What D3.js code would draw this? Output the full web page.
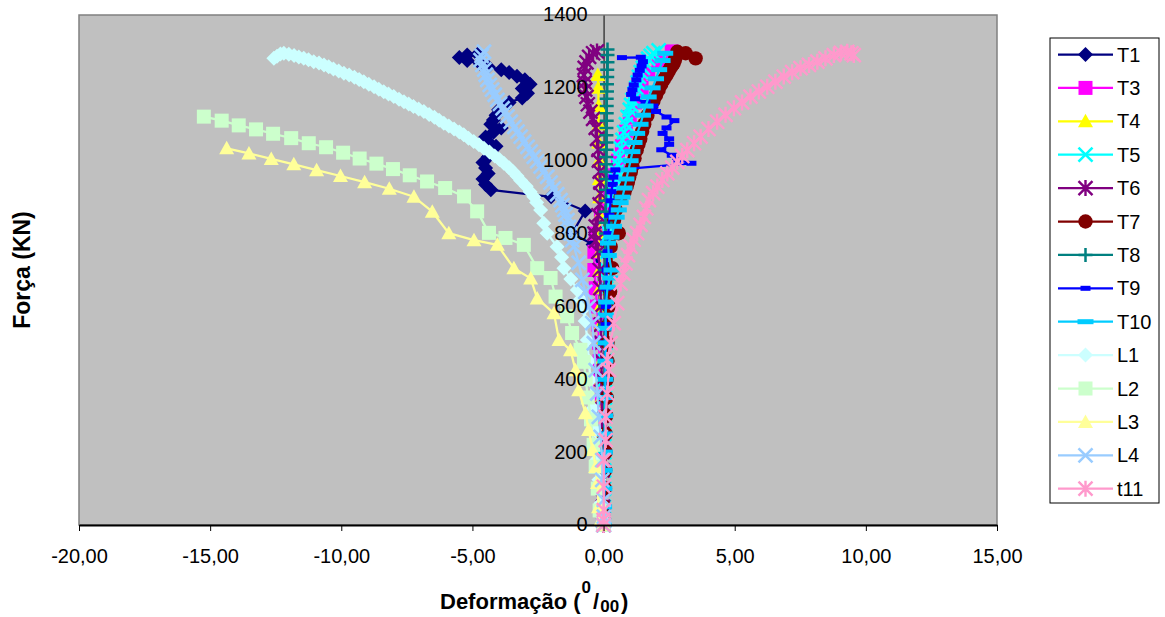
<!DOCTYPE html>
<html><head><meta charset="utf-8">
<script src="https://cdn.jsdelivr.net/npm/d3@7"></script>
<style>body{margin:0;background:#fff;} text{font-family:"Liberation Sans",Arial,sans-serif;fill:#000;}</style>
</head><body><svg id="c" width="1165" height="617"></svg>
<script>
// ---------- data ----------
const xTicks = [-20,-15,-10,-5,0,5,10,15];
const yTicks = [0,200,400,600,800,1000,1200,1400];
const seriesNames = ["T1","T3","T4","T5","T6","T7","T8","T9","T10","L1","L2","L3","L4","t11"];

const T1 = [[0,0],[-0.02,50],[-0.03,100],[-0.04,150],[-0.05,200],[-0.06,250],[-0.07,300],[-0.08,350],[-0.09,400],[-0.1,450],[-0.11,500],[-0.12,550],[-0.14,600],[-0.16,650],[-0.2,700],[-0.25,740],[-0.4,770],[-1.2,800],[-0.7,862],[-2.0,901],[-4.3,920],[-4.5,935],[-4.6,950],[-4.4,965],[-4.5,980],[-4.6,995],[-4.4,1010],[-4.3,1025],[-4.1,1040],[-4.4,1052],[-4.5,1065],[-4.2,1078],[-3.9,1090],[-4.3,1100],[-4.2,1112],[-4.1,1125],[-4.0,1140],[-3.6,1160],[-3.1,1172],[-2.9,1185],[-3.1,1198],[-2.8,1210],[-3.0,1222],[-3.3,1232],[-3.6,1242],[-3.9,1250],[-4.4,1258],[-4.7,1266],[-5.2,1275],[-5.5,1283],[-5.2,1290],[-4.8,1292]];
const T3 = [[0,0],[-0.02,50],[-0.04,100],[-0.05,150],[-0.07,200],[-0.08,250],[-0.1,300],[-0.12,350],[-0.13,400],[-0.15,450],[-0.17,500],[-0.2,550],[-0.25,600],[-0.3,650],[-0.35,700],[-0.35,750],[-0.3,800],[-0.1,850],[0.1,880],[0.25,920],[0.4,960],[0.55,1000],[0.7,1040],[0.85,1080],[1.0,1120],[1.2,1160],[1.45,1200],[1.7,1240],[2.1,1270],[2.6,1300]];
const T4 = [[0,0],[-0.02,50],[-0.03,100],[-0.04,150],[-0.05,200],[-0.06,250],[-0.07,300],[-0.08,350],[-0.09,400],[-0.1,450],[-0.1,500],[-0.12,550],[-0.13,600],[-0.14,650],[-0.15,700],[-0.15,750],[-0.16,800],[-0.15,850],[-0.15,900],[-0.16,950],[-0.17,1000],[-0.18,1050],[-0.18,1100],[-0.19,1150],[-0.2,1200],[-0.22,1235]];
const T5 = [[0,0],[0.01,50],[0.02,100],[0.02,150],[0.03,200],[0.03,250],[0.04,300],[0.05,350],[0.05,400],[0.06,450],[0.07,500],[0.08,550],[0.08,600],[0.1,650],[0.12,700],[0.15,750],[0.2,800],[0.25,825],[0.3,850],[0.33,870],[0.35,890],[0.38,910],[0.42,930],[0.46,950],[0.5,970],[0.55,990],[0.6,1010],[0.66,1033],[0.72,1057],[0.78,1078],[0.85,1100],[0.92,1120],[1.0,1140],[1.05,1153],[1.1,1167],[1.18,1184],[1.25,1200],[1.3,1215],[1.35,1230],[1.42,1243],[1.5,1255],[1.6,1268],[1.7,1280],[1.8,1288],[1.9,1295],[2.1,1303]];
const T6 = [[0,0],[-0.02,50],[-0.03,100],[-0.04,150],[-0.05,200],[-0.05,250],[-0.06,300],[-0.07,350],[-0.08,400],[-0.08,450],[-0.09,500],[-0.1,550],[-0.1,600],[-0.12,650],[-0.15,700],[-0.2,750],[-0.3,780],[-0.35,800],[-0.3,820],[-0.2,850],[-0.15,880],[-0.12,910],[-0.12,940],[-0.15,970],[-0.18,1000],[-0.2,1030],[-0.25,1060],[-0.3,1090],[-0.4,1115],[-0.5,1135],[-0.6,1155],[-0.65,1175],[-0.7,1195],[-0.72,1215],[-0.75,1235],[-0.72,1255],[-0.65,1270],[-0.55,1285],[-0.4,1295],[-0.25,1300]];
const T7 = [[0,0],[0.03,50],[0.05,100],[0.06,150],[0.08,200],[0.08,250],[0.1,300],[0.12,350],[0.12,400],[0.15,450],[0.15,500],[0.18,550],[0.2,600],[0.25,640],[0.33,705],[0.27,764],[0.58,801],[0.4,837],[0.46,865],[0.65,901],[0.8,915],[0.88,929],[0.93,942],[0.98,955],[1.04,970],[1.1,985],[1.18,1007],[1.26,1029],[1.33,1045],[1.4,1060],[1.47,1080],[1.55,1100],[1.67,1124],[1.8,1148],[1.9,1164],[2.0,1180],[2.1,1195],[2.2,1210],[2.3,1223],[2.4,1235],[2.48,1245],[2.55,1255],[2.62,1262],[2.67,1267],[2.72,1277],[2.75,1285],[2.81,1299],[3.13,1295],[3.51,1281]];
const T8 = [[0,0],[0,25],[0.01,50],[0.01,100],[0.02,150],[0.02,200],[0.03,250],[0.03,300],[0.04,350],[0.04,400],[0.05,450],[0.05,500],[0.05,550],[0.06,600],[0.06,650],[0.07,700],[0.07,750],[0.08,800],[0.08,830],[0.08,860],[0.09,890],[0.09,920],[0.1,950],[0.1,970],[0.1,990],[0.1,1010],[0.11,1030],[0.11,1050],[0.11,1070],[0.11,1090],[0.12,1110],[0.12,1130],[0.12,1150],[0.12,1170],[0.13,1190],[0.13,1210],[0.14,1230],[0.14,1250],[0.15,1270],[0.15,1290],[0.15,1305]];
const T9 = [[0,0],[0.02,50],[0.03,100],[0.04,150],[0.05,200],[0.05,250],[0.06,300],[0.06,350],[0.07,400],[0.07,450],[0.08,500],[0.08,550],[0.09,600],[0.1,650],[0.12,700],[0.15,750],[0.18,800],[0.22,850],[0.27,890],[0.3,915],[0.35,935],[0.38,955],[0.45,975],[3.35,993],[2.8,1002],[2.6,1015],[2.2,1030],[2.5,1045],[2.5,1060],[2.25,1075],[2.4,1090],[2.7,1110],[2.4,1120],[2.0,1135],[1.9,1150],[1.6,1160],[1.2,1170],[1.05,1182],[1.1,1195],[1.15,1208],[1.25,1222],[1.3,1235],[1.38,1248],[1.45,1260],[1.5,1272],[1.42,1284],[0.7,1283]];
const T10 = [[0,0],[0.02,50],[0.03,100],[0.04,150],[0.05,200],[0.05,250],[0.06,300],[0.06,350],[0.07,400],[0.07,450],[0.08,500],[0.08,540],[0.08,576],[0.1,612],[0.15,653],[0.25,678],[0.3,700],[0.2,740],[0.17,774],[0.3,790],[0.4,820],[0.5,845],[0.58,865],[0.65,885],[0.72,900],[0.8,925],[0.87,950],[0.95,975],[1.03,1000],[1.1,1025],[1.18,1050],[1.28,1075],[1.41,1100],[1.5,1125],[1.6,1150],[1.72,1175],[1.87,1200],[2.0,1225],[2.12,1250],[2.25,1275],[2.35,1295]];
const L1 = [[0,0],[-0.05,25],[-0.1,60],[-0.18,124],[-0.25,180],[-0.33,261],[-0.4,320],[-0.5,398],[-0.56,450],[-0.62,508],[-0.7,560],[-0.75,595],[-0.88,620],[-1.0,645],[-1.25,675],[-1.51,705],[-1.6,735],[-1.77,764],[-2.15,801],[-2.28,828],[-2.4,865],[-2.55,885],[-2.66,901],[-2.8,915],[-2.95,930],[-3.16,946],[-3.3,958],[-3.45,970],[-3.6,981],[-3.8,993],[-3.97,1003],[-4.15,1013],[-4.35,1024],[-4.56,1034],[-4.75,1044],[-4.95,1053],[-5.15,1062],[-5.33,1071],[-5.5,1079],[-5.7,1087],[-5.9,1095],[-6.09,1103],[-6.27,1111],[-6.45,1119],[-6.65,1127],[-6.85,1135],[-7.05,1142],[-7.25,1149],[-7.43,1156],[-7.61,1162],[-7.8,1169],[-8.0,1176],[-8.2,1183],[-8.38,1189],[-8.57,1196],[-8.75,1203],[-8.95,1210],[-9.14,1217],[-9.32,1223],[-9.5,1229],[-9.7,1235],[-9.9,1240],[-10.1,1246],[-10.3,1252],[-10.48,1258],[-10.66,1263],[-10.85,1268],[-11.05,1272],[-11.25,1277],[-11.43,1281],[-11.62,1285],[-11.8,1289],[-12.0,1292],[-12.19,1295],[-12.32,1293],[-12.45,1287],[-12.57,1281]];
const L2 = [[0,0],[-0.15,40],[-0.22,100],[-0.3,160],[-0.38,220],[-0.48,290],[-0.6,350],[-0.68,400],[-0.75,448],[-0.88,481],[-1.2,527],[-1.39,573],[-1.83,627],[-2.02,678],[-2.53,705],[-3.04,769],[-3.74,788],[-4.37,802],[-4.82,861],[-5.32,902],[-6.04,925],[-6.73,943],[-7.39,960],[-8.03,977],[-8.66,992],[-9.3,1006],[-9.93,1022],[-10.58,1037],[-11.24,1048],[-11.91,1062],[-12.6,1074],[-13.25,1086],[-13.91,1097],[-14.56,1110],[-15.24,1121]];
const L3 = [[0,0],[-0.1,14],[-0.19,49],[-0.23,115],[-0.3,159],[-0.42,206],[-0.57,261],[-0.69,307],[-0.95,370],[-1.07,425],[-1.26,480],[-1.7,508],[-1.89,581],[-2.53,622],[-2.78,677],[-3.42,705],[-4.05,769],[-4.94,782],[-5.9,801],[-6.53,860],[-7.23,901],[-8.17,923],[-9.11,941],[-10.03,958],[-10.94,974],[-11.81,990],[-12.67,1005],[-13.52,1020],[-14.37,1034]];
const L4 = [[0,0],[0.01,23],[0.01,69],[-0.05,124],[-0.05,178],[-0.11,242],[-0.18,297],[-0.24,361],[-0.3,425],[-0.37,499],[-0.43,554],[-0.56,599],[-0.7,640],[-0.81,673],[-0.95,720],[-1.13,764],[-1.2,782],[-1.25,800],[-1.32,818],[-1.38,837],[-1.45,852],[-1.5,865],[-1.57,878],[-1.64,892],[-1.77,908],[-1.9,924],[-2.02,940],[-2.15,956],[-2.28,970],[-2.4,984],[-2.53,998],[-2.66,1011],[-2.78,1025],[-2.9,1038],[-3.03,1052],[-3.16,1066],[-3.28,1080],[-3.4,1093],[-3.54,1107],[-3.67,1121],[-3.76,1133],[-3.85,1144],[-3.95,1156],[-4.05,1167],[-4.15,1181],[-4.25,1195],[-4.34,1208],[-4.43,1222],[-4.49,1236],[-4.55,1250],[-4.62,1263],[-4.69,1276],[-4.65,1288],[-4.56,1299]];
const t11 = [[0,0],[0,14],[0.01,41],[0.01,105],[0.01,178],[0.08,233],[0.08,297],[0.14,361],[0.2,425],[0.14,453],[0.27,499],[0.39,554],[0.52,609],[0.65,663],[0.75,690],[0.84,718],[0.93,741],[1.03,764],[1.15,783],[1.28,801],[1.41,824],[1.54,846],[1.63,869],[1.73,892],[1.89,911],[2.05,929],[2.24,947],[2.43,965],[2.62,981],[2.81,997],[3.0,1013],[3.19,1029],[3.45,1048],[3.7,1066],[4.0,1087],[4.33,1107],[4.65,1126],[4.97,1144],[5.28,1160],[5.6,1176],[5.92,1190],[6.24,1203],[6.55,1217],[6.87,1231],[7.19,1243],[7.51,1254],[7.83,1263],[8.15,1272],[8.46,1281],[8.78,1290],[9.05,1296],[9.29,1299],[9.45,1295],[9.54,1290]];

const seriesData = [T1,T3,T4,T5,T6,T7,T8,T9,T10,L1,L2,L3,L4,t11];

// ---------- styles ----------
const colors = ["#000080","#FF00FF","#FFFF00","#00FFFF","#800080","#800000","#008080","#0000FF","#00CCFF","#CCFFFF","#CCFFCC","#FFFF99","#99CCFF","#FF99CC"];
const markers = ["diamond","square","triangle","x","star","circle","plus","dashS","dashL","diamond","square","triangle","x","star"];

const svg = d3.select("#c");
const W = 1165, H = 617;
const pl = 79, pr = 997, pt = 15, pb = 525;
const x = d3.scaleLinear().domain([-20,15]).range([pl,pr]);
const y = d3.scaleLinear().domain([0,1400]).range([pb,pt]);

svg.append("rect").attr("width",W).attr("height",H).attr("fill","#fff");
svg.append("rect").attr("x",pl).attr("y",pt).attr("width",pr-pl).attr("height",pb-pt)
  .attr("fill","#C0C0C0").attr("stroke","#808080").attr("stroke-width",1.5);

function drawMarker(g, type, color, cx, cy) {
  const m = g.append("g").attr("transform",`translate(${cx},${cy})`);
  switch(type){
    case "diamond": m.append("path").attr("d","M0,-7.5L7.5,0L0,7.5L-7.5,0Z").attr("fill",color); break;
    case "square": m.append("rect").attr("x",-7).attr("y",-7).attr("width",14).attr("height",14).attr("fill",color); break;
    case "triangle": m.append("path").attr("d","M0,-7.5L7.5,6L-7.5,6Z").attr("fill",color); break;
    case "circle": m.append("circle").attr("r",7.2).attr("fill",color); break;
    case "x": m.append("path").attr("d","M-7,-7L7,7M-7,7L7,-7").attr("stroke",color).attr("stroke-width",2.6).attr("fill","none"); break;
    case "star": m.append("path").attr("d","M-7,-7L7,7M-7,7L7,-7M0,-8L0,8").attr("stroke",color).attr("stroke-width",2.4).attr("fill","none"); break;
    case "plus": m.append("path").attr("d","M-7,0L7,0M0,-7L0,7").attr("stroke",color).attr("stroke-width",2.5).attr("fill","none"); break;
    case "dashS": m.append("rect").attr("x",-5).attr("y",-2.5).attr("width",10).attr("height",5).attr("fill",color); break;
    case "dashL": m.append("rect").attr("x",-8).attr("y",-2.5).attr("width",16).attr("height",5).attr("fill",color); break;
  }
}

svg.append("clipPath").attr("id","pc").append("rect").attr("x",pl).attr("y",pt-10).attr("width",pr-pl).attr("height",pb-pt+20);

// y axis line (behind data)
const yAxis = d3.axisLeft(y).tickValues(yTicks).tickSize(0).tickFormat(d3.format("d"));
const yg = svg.append("g").attr("transform",`translate(${x(0)},0)`).call(yAxis);
yg.select(".domain").attr("stroke","#000").attr("stroke-width",1);
yg.selectAll("text").remove();

const line = d3.line().x(d=>x(d[0])).y(d=>y(d[1]));
const plotG = svg.append("g").attr("clip-path","url(#pc)");
seriesData.forEach((data,i)=>{
  const g = plotG.append("g");
  g.append("path").datum(data).attr("d",line).attr("fill","none").attr("stroke",colors[i]).attr("stroke-width",2.25).attr("stroke-linejoin","round");
  data.forEach(d=>drawMarker(g, markers[i], colors[i], x(d[0]), y(d[1])));
});

// y tick labels above data
const yLab = svg.append("g").attr("text-anchor","end").style("font-size","20px");
yTicks.forEach(d=>{
  yLab.append("text").attr("x",x(0)-16).attr("y",y(d)).attr("dy","0.32em").text(d3.format("d")(d));
});

// x axis
const fmt = v => d3.format(".2f")(v).replace(".",",").replace("−","-");
const xAxis = d3.axisBottom(x).tickValues(xTicks).tickSize(6).tickSizeOuter(0).tickFormat(fmt);
const xg = svg.append("g").attr("transform",`translate(0,${pb})`).call(xAxis);
xg.select(".domain").attr("stroke","#000").attr("stroke-width",2);
xg.selectAll(".tick line").attr("stroke","#000").attr("stroke-width",1);
xg.selectAll("text").style("font-size","20px").attr("fill","#000").attr("y",38).attr("dy",0);

// axis titles
const xt = svg.append("text").attr("x",440).attr("y",609).style("font-size","22px").style("font-weight","bold");
xt.append("tspan").text("Deformação (");
xt.append("tspan").attr("dx",1).attr("dy",-16).style("font-size","17px").text("0");
xt.append("tspan").attr("dx",2).attr("dy",16).text("/");
xt.append("tspan").attr("dx",1).attr("dy",2.5).style("font-size","17px").text("00");
xt.append("tspan").attr("dx",2).attr("dy",-2.5).text(")");

svg.append("text").attr("transform","translate(30,270) rotate(-90)").attr("text-anchor","middle")
  .style("font-size","23px").style("font-weight","bold").text("Força (KN)");

// legend
const lg = svg.append("g");
lg.append("rect").attr("x",1050).attr("y",38).attr("width",109).attr("height",465).attr("fill","#fff").attr("stroke","#000").attr("stroke-width",1);
seriesNames.forEach((n,i)=>{
  const yy = 54.5 + i*33.4;
  lg.append("line").attr("x1",1058).attr("x2",1113).attr("y1",yy).attr("y2",yy).attr("stroke",colors[i]).attr("stroke-width",2.25);
  drawMarker(lg, markers[i], colors[i], 1085.5, yy);
  lg.append("text").attr("x",1117).attr("y",yy).attr("dy","0.35em").style("font-size","20px").text(n);
});
</script></body></html>
